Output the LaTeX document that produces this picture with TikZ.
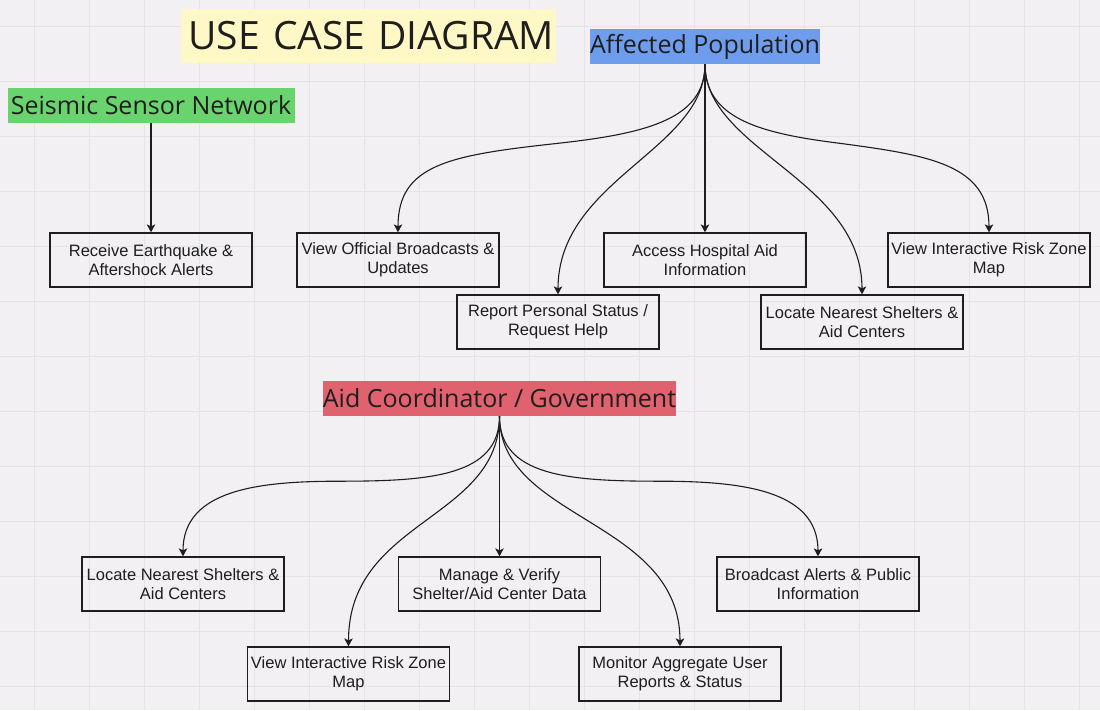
\documentclass[tikz,border=0pt]{standalone}
\usepackage{fontspec}
\setmainfont{Liberation Sans}
\newfontfamily\hfont{Open Sans}
\usetikzlibrary{arrows.meta,calc}
\definecolor{bgc}{HTML}{F2F0F3}
\definecolor{gridc}{HTML}{E5E3E7}
\definecolor{ttl}{HTML}{FDF8C6}
\definecolor{grn}{HTML}{69D36E}
\definecolor{blu}{HTML}{6F9DED}
\definecolor{redc}{HTML}{E0626F}
\definecolor{ink}{HTML}{1E1E1E}
\tikzset{
  hdr/.style={inner sep=0pt, font=\hfont\fontsize{25}{28}\selectfont, text=ink, minimum height=35pt},
  ucase/.style={draw=ink, line width=1.3pt, minimum width=202pt, minimum height=54pt, inner sep=0pt,
    align=center, font=\fontsize{16.5}{19}\selectfont, text=ink},
  arr/.style={draw=ink, line width=1.1pt, -{Stealth[length=8pt,width=8.5pt,inset=2pt]}}
}
\begin{document}
\begin{tikzpicture}[x=1pt,y=-1pt]
\fill[bgc] (0,0) rectangle (1100,710);
\useasboundingbox (0,0) rectangle (1100,710);
\foreach \gx in {34,89,...,1100} \draw[gridc, line width=0.8pt] (\gx,0) -- (\gx,710);
\foreach \gy in {26,81,...,710} \draw[gridc, line width=0.8pt] (0,\gy) -- (1100,\gy);

% headers
\node[hdr, fill=ttl, text width=371pt, inner xsep=2pt, align=right, minimum height=54pt,
      font=\hfont\fontsize{39}{42}\selectfont] (title) at (368.5,36) {USE CASE DIAGRAM};
\node[hdr, fill=grn, minimum width=287pt] (ssn) at (151,105.5) {Seismic Sensor Network};
\node[hdr, fill=blu, minimum width=230pt] (ap) at (705,46.5) {Affected Population};
\node[hdr, fill=redc, minimum width=353pt] (ac) at (499.5,398.5) {Aid Coordinator / Government};

% top use cases
\node[ucase] (rea) at (151,260) {Receive Earthquake \&\\Aftershock Alerts};
\node[ucase] (vob) at (398,260) {View Official Broadcasts \&\\Updates};
\node[ucase] (rps) at (558,322) {Report Personal Status /\\Request Help};
\node[ucase] (ahi) at (705,260) {Access Hospital Aid\\Information};
\node[ucase] (lns) at (862,322) {Locate Nearest Shelters \&\\Aid Centers};
\node[ucase] (vrz) at (989,260) {View Interactive Risk Zone\\Map};

% bottom use cases
\node[ucase] (lns2) at (183,584) {Locate Nearest Shelters \&\\Aid Centers};
\node[ucase] (vrz2) at (348.5,674) {View Interactive Risk Zone\\Map};
\node[ucase] (mvs) at (499.5,584) {Manage \& Verify\\Shelter/Aid Center Data};
\node[ucase] (mau) at (680,674) {Monitor Aggregate User\\Reports \& Status};
\node[ucase] (bap) at (818,584) {Broadcast Alerts \& Public\\Information};

% bend points of the curved connectors
\coordinate (m1) at ($(ap.south)+(-146,79)$);
\coordinate (m2) at ($(ap.south)+(134,79)$);
\coordinate (m3) at ($(ac.south)+(-160,65)$);
\coordinate (m4) at ($(ac.south)+(160,65)$);

% connectors
\draw[arr] (ssn.south) -- (rea.north);
\draw[arr] (ap.south) .. controls ($(ap.south)+(0,54)$) and ($(m1)+(90,-10)$) .. (m1)
  .. controls ($(m1)+(-110,12)$) and ($(vob.north)+(0,-68)$) .. (vob.north);
\draw[arr] (ap.south) .. controls ($(ap.south)+(0,86)$) and ($(rps.north)+(0,-115)$) .. (rps.north);
\draw[arr] (ap.south) -- (ahi.north);
\draw[arr] (ap.south) .. controls ($(ap.south)+(0,86)$) and ($(lns.north)+(0,-115)$) .. (lns.north);
\draw[arr] (ap.south) .. controls ($(ap.south)+(0,54)$) and ($(m2)+(-80,-10)$) .. (m2)
  .. controls ($(m2)+(90,12)$) and ($(vrz.north)+(0,-68)$) .. (vrz.north);

\draw[arr] (ac.south) .. controls ($(ac.south)+(0,60)$) and ($(m3)+(90,0)$) .. (m3)
  .. controls ($(m3)+(-80,0)$) and ($(lns2.north)+(0,-67)$) .. (lns2.north);
\draw[arr] (ac.south) .. controls ($(ac.south)+(0,104)$) and ($(vrz2.north)+(0,-127)$) .. (vrz2.north);
\draw[arr] (ac.south) -- (mvs.north);
\draw[arr] (ac.south) .. controls ($(ac.south)+(0,104)$) and ($(mau.north)+(0,-127)$) .. (mau.north);
\draw[arr] (ac.south) .. controls ($(ac.south)+(0,60)$) and ($(m4)+(-90,0)$) .. (m4)
  .. controls ($(m4)+(80,0)$) and ($(bap.north)+(0,-67)$) .. (bap.north);
\end{tikzpicture}
\end{document}
